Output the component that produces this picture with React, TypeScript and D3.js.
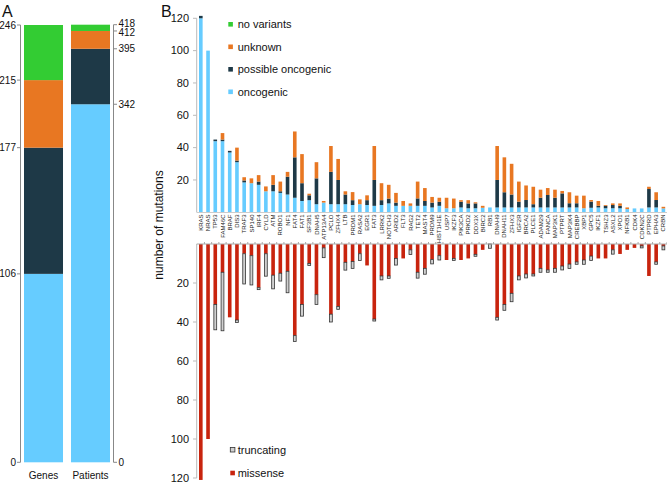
import React from 'react';
import * as d3 from 'd3';

const genes = ['KRAS','NRAS','TP53','FAM46C','BRAF','DIS3','TRAF3','SP140','IRF4','CYLD','ATM','ROBO1','NF1','FAT4','FAT1','SF3B1','DNAH5','ATP13A4','PCLO','ZFHX4','LTB','PRDM1','RASA2','EGR1','FAT3','LRRK2','NOTCH3','ARID2','FLT3','RAG2','TET2','MAST4','PRDM9','HIST1H1E','USP7','IKZF3','PIK3CA','PRKD2','DDX3X','BIRC2','RB1','DNAH9','DNAH11','ZFHX3','IGF2R','BRCA2','PLCE1','ADAM29','FANCA','MAP3K1','PTPRT','MAP3K4','CREBBP','XBP1','GPC5','IKZF1','TSHZ3','ASXL2','XPO1','NFKB1','CDK4','CDKN2C','PTPRD','EPHA3','CRBN'];

const oncogenic = [120,100,44,44,37,31,18.5,18,17,13,13,12,11,9,7,7.5,5,6,5,5,5,4.5,5,4.5,4,4.5,5.5,4,4,4,4,4,3,4,2.5,2.5,3,2.5,2.5,2.8,3,3,3,3,3,3,3,3,3,3,3,3,3,2.5,2.8,3,2.5,2.5,2.5,2,2.4,2.4,3,3,2.4];
const possible = [1.5,0,1,1,1,1,1.2,0,2,0,4,1,11,25,11,3,16,0,20,15,6,3,0,3,16,3,3,2,0,0,4.6,3,3,2.5,0,0,3.5,3,3,0,0,17,9.4,8,3.6,4.6,2,6,7.7,6,8.7,2.6,2.6,0,3.8,1,1.5,2,1.5,0,0,0,11.4,4.6,0];
const unknown = [0,0,0,4,0,8,2,3,4,3,6,6,3,16,18,1,10,1,16,13,2,5,3,3,21,10.5,8.5,6,3,1.5,10.4,8,3.5,2.5,6.5,6,1,2,0.7,1.2,0,21,21.6,19,12.4,9,10.8,5,4.3,5,1.5,6.8,4.7,7.8,1,3,0.5,1,1.5,1,0,0,1.4,4.8,1];

const missense = [121,100,31,14.5,37.6,39,5,6,22.4,5,16,15,14,47,31,10,26,2,36,32,9.4,9,5,11,38.5,16.4,16.4,7.4,7.4,3,14.5,12.5,8,6,8.2,7.4,8.2,7.4,5.3,3,0,37.6,31,25.3,16.4,15.4,15.4,12.5,13.3,12.5,11.3,10.3,9.2,8.2,6.2,7.4,7.4,3,5.1,3,2,1,16.4,9.2,1];
const truncating = [0,0,13,30,0,1.3,15.5,15,1,11.5,7,4,11,3,6,1,5,5,4,1.5,4,3.5,3.5,0,1,2,1.2,3.4,0,2.4,3,3,2.2,2.2,0,1,0,0,1,0,2.2,1.4,3,4.3,2,2,1,2,1.2,2,2,2.2,1.2,2.2,2.2,0,0,2.2,0,0,0,1,0,1.2,2];

const summaryCats = ['Genes','Patients'];
const genesCounts = [106, 71, 38, 31];      // oncogenic, possible, unknown, no variants
const patientsCounts = [342, 53, 17, 6];
const genesTicks = [0,106,177,215,246];
const patientsTicks = [0,342,395,412,418];
const mutTicks = [20,40,60,80,100,120];

const classLabels = ['no variants','unknown','possible oncogenic','oncogenic'];
const COL = { onc:'#66ccff', poss:'#1e3947', unk:'#e87722', none:'#33cc33', mis:'#c8240e', trunc:'#d0d0d0' };
const FONT = '"Liberation Sans", Arial, Helvetica, sans-serif';

export default function App() {
  // Panel A
  const xa = d3.scaleBand().domain(summaryCats).range([24, 110]).paddingInner(0.17).paddingOuter(0);
  const yG = d3.scaleLinear().domain([0, 246]).range([462.3, 25]);
  const yP = d3.scaleLinear().domain([0, 418]).range([462.3, 24.7]);
  const aColors = [COL.onc, COL.poss, COL.unk, COL.none];
  const segs = (counts: number[], y: d3.ScaleLinear<number, number>, cat: string) => {
    let acc = 0;
    return counts.map((c, i) => {
      const y0 = acc; acc += c;
      return <rect key={cat + i} x={xa(cat)} width={xa.bandwidth()} y={y(acc)} height={y(y0) - y(acc)} fill={aColors[i]} />;
    });
  };
  const pLabelNudge = (t: number) => (t === 418 ? -1 : t === 412 ? 1.5 : 0);

  // Panel B
  const x = d3.scaleBand().domain(genes).range([197.2, 667]).paddingInner(0.5).paddingOuter(0.25);
  const yT = d3.scaleLinear().domain([0, 120]).range([212.3, 18.3]);
  const yB = d3.scaleLinear().domain([0, 120]).range([244, 478]);
  const rows = genes.map((g, i) => ({ gene: g, onc: oncogenic[i], poss: possible[i], unk: unknown[i], mis: missense[i], trunc: truncating[i] }));
  const topStack = d3.stack<any>().keys(['onc', 'poss', 'unk'])(rows);
  const botStack = d3.stack<any>().keys(['mis', 'trunc'])(rows);
  const topCols = [COL.onc, COL.poss, COL.unk];
  const bw = x.bandwidth();
  const step = x.step();

  return (
    <svg width={667} height={484} style={{ position: 'absolute', left: 0, top: 0, background: '#fff' }} fontFamily={FONT}>
      {/* Panel A */}
      <text x={2} y={17} fontSize={16} fill="#111">A</text>
      {segs(genesCounts, yG, 'Genes')}
      {segs(patientsCounts, yP, 'Patients')}
      <line x1={20.5} x2={20.5} y1={yG(246)} y2={yG(0)} stroke="#888" strokeWidth={1} />
      {genesTicks.map(t => (
        <g key={'ga' + t}>
          <line x1={17} x2={20.5} y1={yG(t)} y2={yG(t)} stroke="#888" />
          <text x={16} y={yG(t)} dy="0.35em" textAnchor="end" fontSize={10} fill="#111">{t}</text>
        </g>
      ))}
      <line x1={113.5} x2={113.5} y1={yP(418)} y2={yP(0)} stroke="#888" strokeWidth={1} />
      {patientsTicks.map(t => (
        <g key={'pa' + t}>
          <line x1={113.5} x2={117} y1={yP(t)} y2={yP(t)} stroke="#888" />
          <text x={118.5} y={yP(t) + pLabelNudge(t)} dy="0.35em" textAnchor="start" fontSize={10} fill="#111">{t}</text>
        </g>
      ))}
      {summaryCats.map(c => (
        <text key={'lab' + c} x={(xa(c) as number) + xa.bandwidth() / 2} y={479} textAnchor="middle" fontSize={10} fill="#111">{c}</text>
      ))}

      {/* Panel B */}
      <text x={161} y={17} fontSize={16} fill="#111">B</text>
      {topStack.map((layer, li) => layer.map((d, i) => (
        d[1] - d[0] > 0 ? <rect key={'t' + li + '-' + i} x={x(genes[i])} width={bw} y={yT(d[1])} height={yT(d[0]) - yT(d[1])} fill={topCols[li]} /> : null
      )))}
      {botStack[0].map((d, i) => (
        d[1] - d[0] > 0 ? <rect key={'m' + i} x={x(genes[i])} width={bw} y={yB(d[0])} height={yB(d[1]) - yB(d[0])} fill={COL.mis} /> : null
      ))}
      {botStack[1].map((d, i) => (
        d[1] - d[0] > 0 ? <rect key={'tr' + i} x={(x(genes[i]) as number) + 0.4} width={bw - 0.8} y={yB(d[0])} height={yB(d[1]) - yB(d[0])} fill={COL.trunc} stroke="#333" strokeWidth={0.8} /> : null
      ))}
      {/* axes */}
      <line x1={196.7} x2={196.7} y1={yT(120)} y2={yT(0)} stroke="#bbb" />
      {mutTicks.map(t => (
        <g key={'yt' + t}>
          <line x1={193} x2={196.7} y1={yT(t)} y2={yT(t)} stroke="#bbb" />
          <text x={189} y={yT(t)} dy="0.35em" textAnchor="end" fontSize={11} fill="#111">{t}</text>
        </g>
      ))}
      <line x1={196.7} x2={667} y1={212.5} y2={212.5} stroke="#ccc" />
      <line x1={196.7} x2={196.7} y1={yB(0)} y2={yB(120)} stroke="#bbb" />
      {mutTicks.map(t => (
        <g key={'yb' + t}>
          <line x1={193} x2={196.7} y1={yB(t)} y2={yB(t)} stroke="#bbb" />
          <text x={189} y={yB(t)} dy="0.35em" textAnchor="end" fontSize={11} fill="#111">{t}</text>
        </g>
      ))}
      <line x1={196.7} x2={667} y1={244} y2={244} stroke="#aaa" />
      {genes.map(g => (
        <line key={'bt' + g} x1={(x(g) as number) + bw / 2 + step / 2} x2={(x(g) as number) + bw / 2 + step / 2} y1={242} y2={244} stroke="#aaa" />
      ))}
      {genes.map(g => (
        <text key={'gl' + g} transform={`translate(${(x(g) as number) + bw / 2},214.5) rotate(-90)`} dy="0.35em" textAnchor="end" fontSize={6} fill="#222">{g}</text>
      ))}
      <text transform="translate(163,225) rotate(-90)" textAnchor="middle" fontSize={12} fill="#111">number of mutations</text>

      {/* top legend */}
      {classLabels.map((l, i) => (
        <g key={'lg' + l}>
          <rect x={228.3} y={24.3 + i * 22.5 - 2.3} width={4.6} height={4.6} fill={[COL.none, COL.unk, COL.poss, COL.onc][i]} />
          <text x={237.7} y={24.3 + i * 22.5} dy="0.35em" fontSize={11} fill="#111">{l}</text>
        </g>
      ))}
      {/* bottom legend */}
      <rect x={230.3} y={447.4} width={4.6} height={4.6} fill={COL.trunc} stroke="#333" strokeWidth={0.8} />
      <text x={237.7} y={449.7} dy="0.35em" fontSize={11} fill="#111">truncating</text>
      <rect x={230.3} y={470.7} width={4.6} height={4.6} fill={COL.mis} />
      <text x={237.7} y={473} dy="0.35em" fontSize={11} fill="#111">missense</text>
    </svg>
  );
}
